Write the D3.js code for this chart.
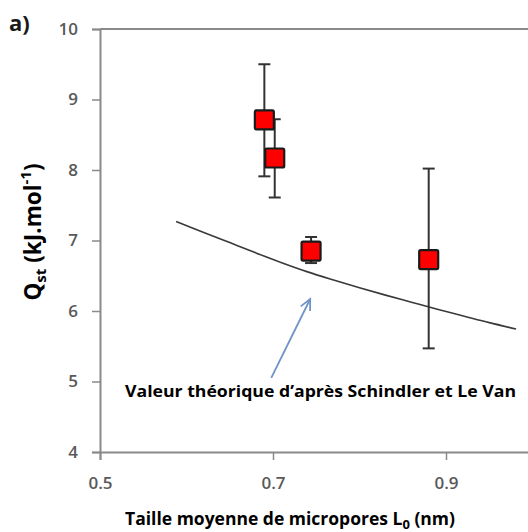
<!DOCTYPE html>
<html>
<head>
<meta charset="utf-8">
<script src="https://cdn.jsdelivr.net/npm/d3@7/dist/d3.min.js"></script>
<style>
  html, body { margin: 0; padding: 0; background: #fff; }
  svg { display: block; }
  text { font-family: "Open Sans", "Liberation Sans", sans-serif; }
</style>
</head>
<body>
<svg id="chart" width="528" height="532"></svg>
<script>
// ---- data ----
const poreSize   = [0.69, 0.702, 0.744, 0.88];          // L0 (nm)
const qst        = [8.71, 8.17, 6.85, 6.73];            // kJ/mol
const errHigh    = [9.50, 8.72, 7.05, 8.02];
const errLow     = [7.91, 7.61, 6.68, 5.47];

const theoryX    = [0.588, 0.62, 0.65, 0.68, 0.71, 0.74, 0.77, 0.80, 0.83, 0.86, 0.89, 0.92, 0.95, 0.981];
const theoryY    = [7.27, 7.115, 6.97, 6.825, 6.685, 6.555, 6.44, 6.33, 6.225, 6.125, 6.025, 5.93, 5.835, 5.745];

const yTicks     = [4, 5, 6, 7, 8, 9, 10];
const xTicks     = [0.5, 0.7, 0.9];

const arrowFrom  = [0.698, 5.05];
const arrowTo    = [0.743, 6.17];
const annotation = "Valeur théorique d’après Schindler et Le Van";

// ---- layout ----
const svg = d3.select("#chart");
const x = d3.scaleLinear().domain([0.5, 1.0]).range([100, 532.5]);
const y = d3.scaleLinear().domain([4, 10]).range([452, 29]);
const axisColor = "#8a8a8a";
const tickText = "#595959";

// top border
svg.append("line")
  .attr("x1", x(0.5)).attr("x2", x(1.0))
  .attr("y1", y(10)).attr("y2", y(10))
  .attr("stroke", axisColor).attr("stroke-width", 2);

// y axis
const gy = svg.append("g").attr("transform", `translate(${x(0.5)},0)`)
  .call(d3.axisLeft(y).tickValues(yTicks).tickSize(8).tickPadding(14).tickFormat(d3.format("d")));
gy.select(".domain").attr("stroke", axisColor).attr("stroke-width", 2);
gy.selectAll(".tick line").attr("stroke", axisColor).attr("stroke-width", 1.5);
gy.selectAll(".tick text").attr("fill", tickText).attr("font-size", 17).attr("font-weight", 600)
  .attr("font-family", "Open Sans, sans-serif");

// x axis
const gx = svg.append("g").attr("transform", `translate(0,${y(4)})`)
  .call(d3.axisBottom(x).tickValues(xTicks).tickSize(8).tickPadding(17).tickFormat(d3.format(".1f")));
gx.select(".domain").attr("stroke", axisColor).attr("stroke-width", 2);
gx.selectAll(".tick line").attr("stroke", axisColor).attr("stroke-width", 1.5);
gx.selectAll(".tick text").attr("fill", tickText).attr("font-size", 17).attr("font-weight", 600)
  .attr("font-family", "Open Sans, sans-serif");

// theoretical curve
const line = d3.line().x((d, i) => x(theoryX[i])).y(d => y(d)).curve(d3.curveCatmullRom);
svg.append("path").datum(theoryY)
  .attr("d", line).attr("fill", "none")
  .attr("stroke", "#3a3a3a").attr("stroke-width", 1.6);

// error bars
const eb = svg.append("g");
poreSize.forEach((px, i) => {
  const cx = x(px);
  eb.append("line").attr("x1", cx).attr("x2", cx)
    .attr("y1", y(errHigh[i])).attr("y2", y(errLow[i]))
    .attr("stroke", "#333").attr("stroke-width", 2);
  [errHigh[i], errLow[i]].forEach(v => {
    eb.append("line").attr("x1", cx - 6).attr("x2", cx + 6)
      .attr("y1", y(v)).attr("y2", y(v))
      .attr("stroke", "#333").attr("stroke-width", 2);
  });
});

// markers
const ms = 19;
svg.append("g").selectAll("rect").data(poreSize).join("rect")
  .attr("x", d => x(d) - ms / 2)
  .attr("y", (d, i) => y(qst[i]) - ms / 2)
  .attr("width", ms).attr("height", ms)
  .attr("rx", 1.5)
  .attr("fill", "#ff0000").attr("stroke", "#1a1a1a").attr("stroke-width", 2.2);

// arrow
const ax0 = x(arrowFrom[0]), ay0 = y(arrowFrom[1]);
const ax1 = x(arrowTo[0]), ay1 = y(arrowTo[1]);
const ang = Math.atan2(ay1 - ay0, ax1 - ax0);
const hl = 12, ha = 0.45;
const arrowColor = "#6f93c6";
svg.append("line").attr("x1", ax0).attr("y1", ay0).attr("x2", ax1).attr("y2", ay1)
  .attr("stroke", arrowColor).attr("stroke-width", 1.8);
svg.append("path")
  .attr("d", `M${ax1 - hl * Math.cos(ang - ha)},${ay1 - hl * Math.sin(ang - ha)} L${ax1},${ay1} L${ax1 - hl * Math.cos(ang + ha)},${ay1 - hl * Math.sin(ang + ha)}`)
  .attr("fill", "none").attr("stroke", arrowColor).attr("stroke-width", 1.8);

// annotation
svg.append("text").attr("x", 125).attr("y", 397)
  .attr("font-size", 16).attr("font-weight", "bold").attr("fill", "#000")
  .attr("textLength", 391).attr("lengthAdjust", "spacingAndGlyphs")
  .text(annotation);

// panel label
svg.append("text").attr("x", 9).attr("y", 31)
  .attr("font-size", 22).attr("font-weight", "bold").attr("fill", "#1a1a1a")
  .text("a)");

// y axis title
const yt = svg.append("text")
  .attr("transform", "translate(41,232) rotate(-90)")
  .attr("text-anchor", "middle")
  .attr("font-size", 22.5).attr("font-weight", "bold").attr("fill", "#000");
yt.append("tspan").text("Q");
yt.append("tspan").attr("font-size", 15).attr("dy", 5).text("st");
yt.append("tspan").attr("dy", -5).text(" (kJ.mol");
yt.append("tspan").attr("font-size", 15).attr("dy", -10).text("-1");
yt.append("tspan").attr("dy", 10).text(")");

// x axis title
const xt = svg.append("text")
  .attr("x", 290).attr("y", 525)
  .attr("text-anchor", "middle")
  .attr("font-size", 17.5).attr("font-weight", "bold").attr("fill", "#000");
xt.append("tspan").text("Taille moyenne de micropores L");
xt.append("tspan").attr("font-size", 13).attr("dy", 4).text("0");
xt.append("tspan").attr("dy", -4).text(" (nm)");
</script>
</body>
</html>
